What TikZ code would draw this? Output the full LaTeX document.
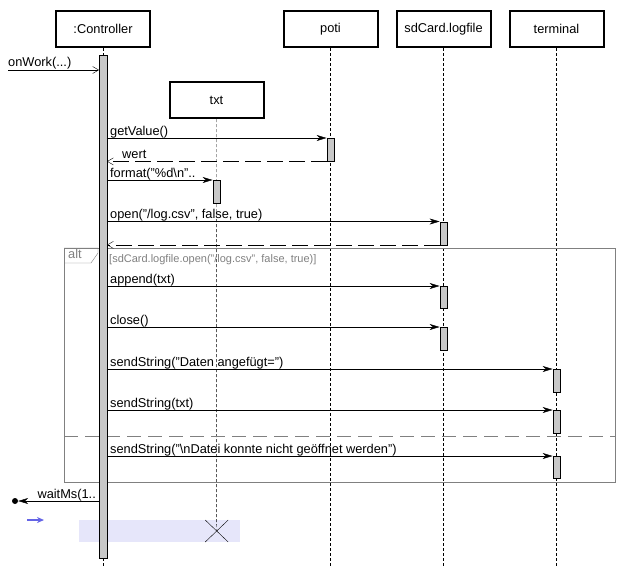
\documentclass[tikz,border=0pt]{standalone}
\usepackage{fontspec}
\setmainfont{Liberation Sans}
\usetikzlibrary{arrows.meta,positioning}
\definecolor{actgray}{RGB}{200,200,200}
\definecolor{framegray}{RGB}{128,128,128}
\definecolor{destroybg}{RGB}{230,230,250}
\definecolor{markblue}{RGB}{100,100,230}

\begin{document}
\begin{tikzpicture}[
    x=1pt, y=-1pt,
    font=\fontsize{12.8}{15}\selectfont,
    head/.style={rectangle, draw, line width=2pt, minimum width=94pt, minimum height=36pt, inner sep=0pt},
    act/.style={rectangle, draw, fill=actgray, minimum width=7.5pt, inner sep=0pt, anchor=north},
    life/.style={dash pattern=on 3pt off 2pt},
    msg/.style={-{Stealth[length=10pt,width=6pt]}},
    ret/.style={-{Straight Barb[length=6pt,width=7pt]}, dash pattern=on 16pt off 6pt},
    lbl/.style={anchor=base west, inner sep=0pt},
    frame/.style={draw=framegray},
    guardtext/.style={anchor=base west, inner sep=0pt, text=framegray, font=\fontsize{11}{13}\selectfont},
]
    \useasboundingbox (0,0) rectangle (629,582);
    \node[head] (ctrl) at (103,29) {:Controller};
    \node[head] (poti) at (330.5,29) {poti};
    \node[head] (sd) at (443.5,29) {sdCard.logfile};
    \node[head] (term) at (556.5,29) {terminal};
    \node[head] (txt) at (216.5,100) {txt};
    \coordinate (txtend) at (216.7,531);
    \fill[destroybg] (79,520) rectangle (240,542);
    \foreach \h in {ctrl,poti,sd,term}
        \draw[life] (\h.south) -- (\h.south |- 0,567);
    \draw[life] (txt.south) -- (txtend);
    \draw (txtend) +(-11.5,-11) -- +(11.5,11) +(-11.5,11) -- +(11.5,-11);

    \coordinate (fnw) at (64,248);
    \coordinate (fse) at (615,482);
    \draw[frame] (fnw) rectangle (fse);
    \draw[frame] (fnw) -- ++(34,0) -- ++(0,5) -- ++(-7,10) -- ++(-27,0);
    \node[lbl, text=framegray] (alt) at (68,258.5) {alt};
    \node[guardtext] (guard) at (109,262) {[sdCard.logfile.open("/log.csv", false, true)]};
    \draw[frame, dash pattern=on 14pt off 7pt] (fnw |- 0,436.5) -- (fse |- 0,436.5);

    \node[act, minimum height=503pt] (actC) at (ctrl.south |- 0,55) {};
    \node[act, minimum height=23pt] (actP) at (poti.south |- 0,138) {};
    \node[act, minimum height=23pt] (actX) at (txt.south |- 0,180) {};
    \node[act, minimum height=23pt] (actS1) at (sd.south |- 0,221.5) {};
    \node[act, minimum height=22pt] (actS2) at (sd.south |- 0,286) {};
    \node[act, minimum height=23pt] (actS3) at (sd.south |- 0,327) {};
    \node[act, minimum height=23pt] (actT1) at (term.south |- 0,369) {};
    \node[act, minimum height=23pt] (actT2) at (term.south |- 0,410) {};
    \node[act, minimum height=22pt] (actT3) at (term.south |- 0,456) {};

    \coordinate (caller) at (8,70);
    \draw[-{Straight Barb[length=6pt,width=7pt]}] (caller) -- (actC.west |- caller)
        node[lbl, at start, yshift=3.3pt] {onWork(...)};
    \draw[msg] (actC.east |- actP.north) -- (actP.north west)
        node[lbl, at start, xshift=3pt, yshift=3pt] {getValue()};
    \draw[ret] (actP.south west) -- (actC.east |- actP.south)
        node[lbl, at end, xshift=15pt, yshift=3pt] {wert};
    \draw[msg] (actC.east |- actX.north) -- (actX.north west)
        node[lbl, at start, xshift=3pt, yshift=3pt] {format("\%d\textbackslash n"..};
    \draw[msg] (actC.east |- actS1.north) -- (actS1.north west)
        node[lbl, at start, xshift=3pt, yshift=3pt] {open("/log.csv", false, true)};
    \draw[ret] (actS1.south west) -- (actC.east |- actS1.south);
    \draw[msg] (actC.east |- actS2.north) -- (actS2.north west)
        node[lbl, at start, xshift=3pt, yshift=3pt] {append(txt)};
    \draw[msg] (actC.east |- actS3.north) -- (actS3.north west)
        node[lbl, at start, xshift=3pt, yshift=3pt] {close()};
    \draw[msg] (actC.east |- actT1.north) -- (actT1.north west)
        node[lbl, at start, xshift=3pt, yshift=3pt] {sendString("Daten angefügt=")};
    \draw[msg] (actC.east |- actT2.north) -- (actT2.north west)
        node[lbl, at start, xshift=3pt, yshift=3pt] {sendString(txt)};
    \draw[msg] (actC.east |- actT3.north) -- (actT3.north west)
        node[lbl, at start, xshift=3pt, yshift=3pt] {sendString("\textbackslash nDatei konnte nicht geöffnet werden")};

    \node[circle, fill, inner sep=0pt, minimum size=6pt] (lost) at (15,501) {};
    \draw[msg] (actC.west |- lost) -- (lost.east)
        node[anchor=base east, inner sep=0pt, at start, xshift=-3pt, yshift=3pt] {waitMs(1..};
    \coordinate (mark) at (27,520);
    \draw[markblue, line width=2pt, -{Stealth[length=7pt,width=6pt]}] (mark) -- ++(17,0);
\end{tikzpicture}
\end{document}
